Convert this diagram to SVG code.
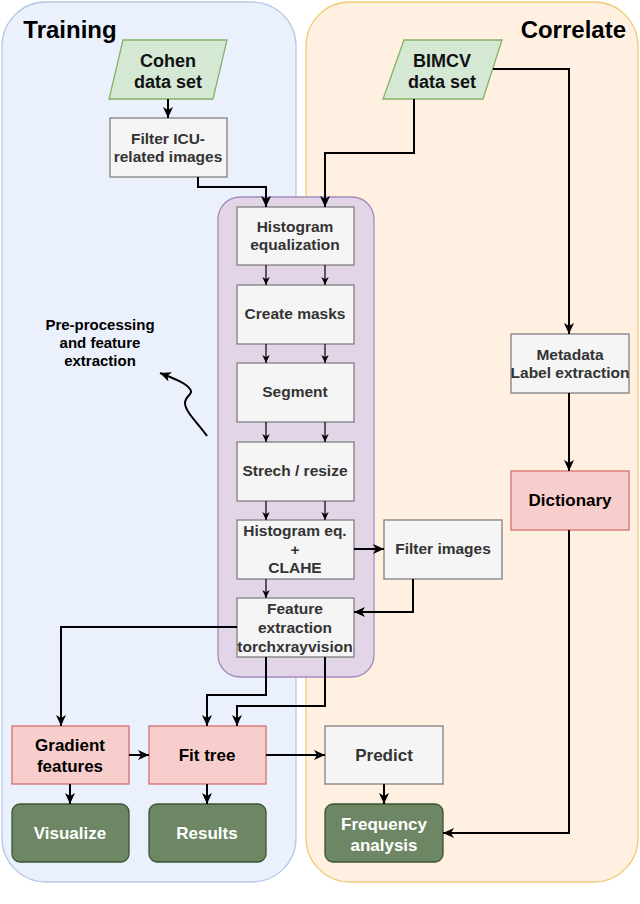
<svg xmlns="http://www.w3.org/2000/svg" width="640" height="904" viewBox="0 0 640 904">
<style>
text{font-family:"Liberation Sans",Arial,Helvetica,sans-serif;font-weight:bold;text-anchor:middle}
.g{fill:#f5f5f5;stroke:#808080;stroke-width:1.3}
.p{fill:#f8cecc;stroke:#d4716c;stroke-width:1.3}
.d{fill:#6d8764;stroke:#3a5431;stroke-width:1.3}
.ds{fill:#d5e8d4;stroke:#82b366;stroke-width:1.3}
.tg{font-size:15.5px;fill:#333}
.tp{font-size:17px;fill:#000}
.tw{font-size:17px;fill:#fff}
.tds{font-size:18px;fill:#111}
.c{fill:none;stroke:#000;stroke-width:2}
.ct{fill:none;stroke:#000;stroke-width:1.2}
</style>
<defs>
<marker id="a" markerUnits="userSpaceOnUse" markerWidth="12" markerHeight="12" refX="11" refY="6" orient="auto" viewBox="0 0 12 12">
<path d="M0,1 L11,6 L0,11 L3,6 Z" fill="#000"/>
</marker>
<marker id="s" markerUnits="userSpaceOnUse" markerWidth="9" markerHeight="9" refX="8" refY="4.5" orient="auto" viewBox="0 0 9 9">
<path d="M0,0.8 L8,4.5 L0,8.2 L2.2,4.5 Z" fill="#000"/>
</marker>
</defs>

<g id="training-panel">
<rect x="2" y="2" width="294" height="880" rx="44" fill="#ebf1fc" stroke="#b5c7e7" stroke-width="1.3"/>
<text x="70" y="38" style="font-size:24px;fill:#000">Training</text>
</g>
<g id="correlate-panel">
<rect x="306" y="2" width="332" height="880" rx="44" fill="#fff0e1" stroke="#f0cb78" stroke-width="1.3"/>
<text x="626" y="38" style="font-size:24px;fill:#000;text-anchor:end">Correlate</text>
</g>
<g id="preprocessing-container">
<rect x="218" y="197" width="156" height="480" rx="22" fill="#e1d5e7" stroke="#a68bbd" stroke-width="1.3"/>
</g>

<g id="cohen">
<polygon class="ds" points="123,40 227,40 213,99 109,99"/>
<text class="tds" x="168" y="67">Cohen</text>
<text class="tds" x="168" y="88">data set</text>
</g>
<g id="bimcv">
<polygon class="ds" points="404,40 502,40 483,99 383,99"/>
<text class="tds" x="442" y="67">BIMCV</text>
<text class="tds" x="442" y="88">data set</text>
</g>
<g id="filter-icu">
<rect class="g" x="110" y="118" width="117" height="59"/>
<text class="tg" x="168" y="144">Filter ICU-</text>
<text class="tg" x="168" y="162">related images</text>
</g>
<g id="hist-eq">
<rect class="g" x="237" y="207" width="117" height="58"/>
<text class="tg" x="295" y="232">Histogram</text>
<text class="tg" x="295" y="250">equalization</text>
</g>
<g id="create-masks">
<rect class="g" x="237" y="285" width="117" height="59"/>
<text class="tg" x="295" y="319">Create masks</text>
</g>
<g id="segment">
<rect class="g" x="237" y="363" width="117" height="59"/>
<text class="tg" x="295" y="397">Segment</text>
</g>
<g id="stretch">
<rect class="g" x="237" y="442" width="117" height="59"/>
<text class="tg" x="295" y="476">Strech / resize</text>
</g>
<g id="clahe">
<rect class="g" x="237" y="520" width="117" height="59"/>
<text class="tg" x="295" y="536">Histogram eq.</text>
<text class="tg" x="295" y="555">+</text>
<text class="tg" x="295" y="573">CLAHE</text>
</g>
<g id="feature">
<rect class="g" x="237" y="598" width="117" height="59"/>
<text class="tg" x="295" y="614">Feature</text>
<text class="tg" x="295" y="633">extraction</text>
<text class="tg" x="295" y="652">torchxrayvision</text>
</g>
<g id="filter-images">
<rect class="g" x="384" y="520" width="118" height="59"/>
<text class="tg" x="443" y="554">Filter images</text>
</g>
<g id="metadata">
<rect class="g" x="511" y="334" width="118" height="59"/>
<text class="tg" x="570" y="360">Metadata</text>
<text class="tg" x="570" y="378">Label extraction</text>
</g>
<g id="dictionary">
<rect class="p" x="511" y="471" width="118" height="59"/>
<text class="tp" x="570" y="506">Dictionary</text>
</g>
<g id="gradient">
<rect class="p" x="12" y="726" width="117" height="58"/>
<text class="tp" x="70" y="751">Gradient</text>
<text class="tp" x="70" y="772">features</text>
</g>
<g id="fit-tree">
<rect class="p" x="149" y="726" width="117" height="58"/>
<text class="tp" x="207" y="761">Fit tree</text>
</g>
<g id="predict">
<rect class="g" x="325" y="726" width="118" height="58"/>
<text class="tp" x="384" y="761" style="fill:#333">Predict</text>
</g>
<g id="visualize">
<rect class="d" x="12" y="804" width="117" height="58" rx="8"/>
<text class="tw" x="70" y="839">Visualize</text>
</g>
<g id="results">
<rect class="d" x="149" y="804" width="117" height="58" rx="8"/>
<text class="tw" x="207" y="839">Results</text>
</g>
<g id="frequency">
<rect class="d" x="325" y="804" width="118" height="58" rx="8"/>
<text class="tw" x="384" y="830">Frequency</text>
<text class="tw" x="384" y="851">analysis</text>
</g>
<g id="preprocessing-label">
<text x="100" y="330" style="font-size:15px;fill:#000">Pre-processing</text>
<text x="100" y="348" style="font-size:15px;fill:#000">and feature</text>
<text x="100" y="366" style="font-size:15px;fill:#000">extraction</text>
</g>

<g id="connectors">
<path class="c" d="M168,99 V118" marker-end="url(#a)"/>
<path class="c" d="M198,177 V187 H266 V207" marker-end="url(#a)"/>
<path class="c" d="M414,99 V153 H325 V207" marker-end="url(#a)"/>
<path class="c" d="M493,69 H569 V334" marker-end="url(#a)"/>
<path class="c" d="M569,393 V471" marker-end="url(#a)"/>
<path class="c" d="M569,530 V833 H443" marker-end="url(#a)"/>
<path class="ct" d="M266,265 V285" marker-end="url(#s)"/>
<path class="ct" d="M325,265 V285" marker-end="url(#s)"/>
<path class="ct" d="M266,344 V363" marker-end="url(#s)"/>
<path class="ct" d="M325,344 V363" marker-end="url(#s)"/>
<path class="ct" d="M266,422 V442" marker-end="url(#s)"/>
<path class="ct" d="M325,422 V442" marker-end="url(#s)"/>
<path class="ct" d="M266,501 V520" marker-end="url(#s)"/>
<path class="ct" d="M325,501 V520" marker-end="url(#s)"/>
<path class="ct" d="M266,579 V598" marker-end="url(#s)"/>
<path class="c" d="M354,549 H384" marker-end="url(#a)"/>
<path class="c" d="M413,579 V612 H354" marker-end="url(#a)"/>
<path class="c" d="M237,627 H61 V726" marker-end="url(#a)"/>
<path class="c" d="M266,657 V695 H207 V726" marker-end="url(#a)"/>
<path class="c" d="M325,657 V706 H237 V726" marker-end="url(#a)"/>
<path class="c" d="M129,755 H149" marker-end="url(#a)"/>
<path class="c" d="M266,755 H325" marker-end="url(#a)"/>
<path class="c" d="M70,784 V804" marker-end="url(#a)"/>
<path class="c" d="M207,784 V804" marker-end="url(#a)"/>
<path class="c" d="M384,784 V804" marker-end="url(#a)"/>
<path class="c" d="M207,436 C199,424 185,412 185,403 C185,396 194,394 190,389 C186,383 173,378 160,373" marker-end="url(#a)"/>
</g>
</svg>
